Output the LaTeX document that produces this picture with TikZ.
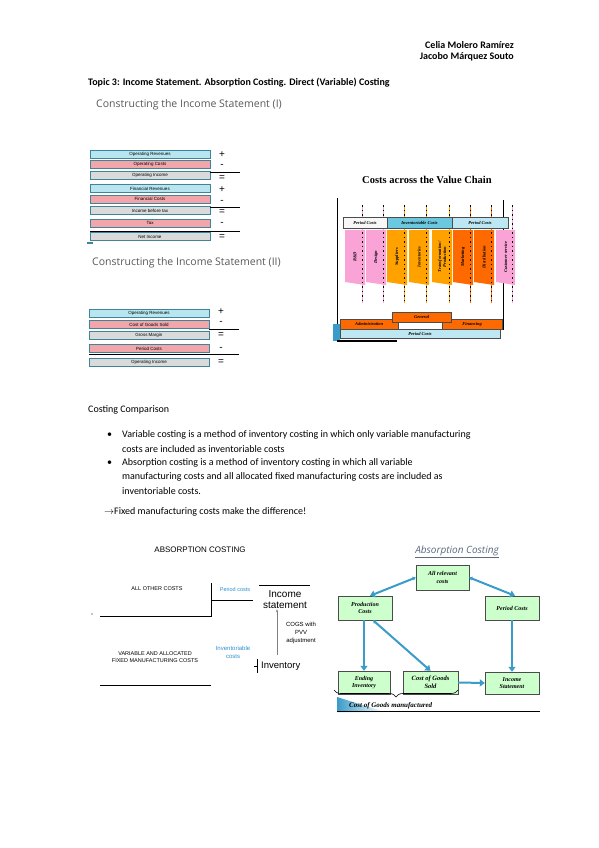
\documentclass[tikz,border=0pt]{standalone}
\usepackage{fontspec}
\setmainfont{Carlito}
\newfontfamily\arialf{Liberation Sans}
\newfontfamily\timesf{Liberation Serif}
\newfontfamily\tahomaf{Open Sans}
\usepackage{tikz}
\usetikzlibrary{arrows.meta,calc,decorations.pathreplacing}

\definecolor{rowblue}{HTML}{B7E5F0}
\definecolor{rowpink}{HTML}{F2A6AA}
\definecolor{rowgrey}{HTML}{DADADA}
\definecolor{rowedge}{HTML}{3E8599}
\definecolor{vcpink}{HTML}{F9A3D6}
\definecolor{vcorange}{HTML}{FFA200}
\definecolor{vcred}{HTML}{FF6A00}
\definecolor{vcteal}{HTML}{6CC8DE}
\definecolor{vclight}{HTML}{BDE8F3}
\definecolor{flowgreen}{HTML}{CCFFCC}
\definecolor{flowblue}{HTML}{3A9CC8}
\definecolor{costblue}{HTML}{2E8FD0}
\definecolor{headgrey}{HTML}{595959}
\definecolor{titlegrey}{HTML}{5A6A80}

\tikzset{
  row/.style={draw=rowedge, line width=0.9pt, minimum width=120pt, minimum height=8pt,
    inner sep=0pt, font=\arialf\fontsize{4.5}{5}\selectfont},
  sign/.style={inner sep=0pt, font=\arialf\fontsize{10}{10}\selectfont},
  sumline/.style={line width=1pt},
  heading/.style={anchor=west, inner sep=0pt, text=headgrey, font=\tahomaf\fontsize{10.5}{12}\selectfont},
  body/.style={anchor=west, inner sep=0pt},
  vclabel/.style={rotate=90, inner sep=0pt, align=center,
    font=\timesf\bfseries\itshape\fontsize{4.5}{5}\selectfont},
  vcbox/.style={draw=black!70, line width=0.4pt},
  small/.style={inner sep=0pt, align=center, font=\arialf\fontsize{5.5}{7}\selectfont},
  flowbox/.style={draw=black!70, fill=flowgreen, minimum width=54pt, minimum height=24pt,
    inner sep=1pt, align=center, font=\timesf\bfseries\itshape\fontsize{6}{7.5}\selectfont},
  flowarrow/.style={draw=flowblue, line width=2pt,
    {Triangle[length=3pt,width=4pt]}-{Triangle[length=5pt,width=7pt]}}
}

\begin{document}
\begin{tikzpicture}[x=1pt, y=-1pt]
  \useasboundingbox (0,0) rectangle (599,848);
  \fill[white] (0,0) rectangle (599,848);

  % page header
  \node[anchor=east, inner sep=0pt, font=\bfseries] (author1) at (514,45) {Celia Molero Ramírez};
  \node[anchor=east, inner sep=0pt, font=\bfseries] (author2) at (514,57) {Jacobo Márquez Souto};
  \node[body, font=\bfseries] (topic) at (88,83) {Topic 3: Income Statement. Absorption Costing. Direct (Variable) Costing};

  % income statement (I)
  \node[heading] (headI) at (96,105) {Constructing the Income Statement (I)};
  \foreach \n/\y/\c/\t in {1/154.5/rowblue/Operating Revenues, 2/164.5/rowpink/Operating Costs,
      3/175/rowgrey/Operating Income, 4/188.5/rowblue/Financial Revenues,
      5/199/rowpink/Financial Costs, 6/210.5/rowgrey/Income before tax,
      7/223/rowpink/Tax, 8/236.5/rowgrey/Net Income}
    \node[row, fill=\c] (ta\n) at (150,\y) {\t};
  \node[sign] (sa1) at (222,155) {+};
  \node[sign] (sa2) at (222,166) {-};
  \draw[sumline] (210,172) -- (240,172);
  \node[sign] (sa3) at (222,178) {=};
  \node[sign] (sa4) at (222,190) {+};
  \node[sign] (sa5) at (222,202) {-};
  \draw[sumline] (210,207) -- (240,207);
  \node[sign] (sa6) at (222,212) {=};
  \node[sign] (sa7) at (222,224) {-};
  \draw[sumline] (90,231) -- (240,231);
  \node[sign] (sa8) at (222,237) {=};
  \fill[rowedge] (87,242) rectangle (93,244);

  % income statement (II)
  \node[heading] (headII) at (92,263) {Constructing the Income Statement (II)};
  \foreach \n/\y/\c/\t in {1/313/rowblue/Operating Revenues, 2/324.5/rowpink/Cost of Goods Sold,
      3/335.5/rowgrey/Gross Margin, 4/348.5/rowpink/Period Costs,
      5/362.5/rowgrey/Operating Income}
    \node[row, fill=\c] (tb\n) at (149,\y) {\t};
  \node[sign] (sb1) at (221,311.5) {+};
  \node[sign] (sb2) at (221,323) {-};
  \draw[sumline] (209,329) -- (239,329);
  \node[sign] (sb3) at (221,335) {=};
  \node[sign] (sb4) at (221,349) {-};
  \draw[sumline] (89,354) -- (239,354);
  \node[sign] (sb5) at (221,362) {=};

  % value chain
  \node[inner sep=0pt, font=\timesf\bfseries\fontsize{10.5}{12}\selectfont] (vctitle) at (427,180) {Costs across the Value Chain};
  \draw[line width=0.8pt] (337,198) -- (337,335);
  \draw[line width=0.8pt] (503,200) -- (503,330);
  \foreach \n/\xa/\xb/\c/\t in {1/345/365/vcpink/R\&D, 2/366/386/vcpink/Design,
      3/387/407/vcorange/Suppliers, 4/409/429/vcorange/Inventories,
      5/432/452/vcorange/{Transformation/\\Production}, 6/453/473/vcred/Marketing,
      7/474/494/vcred/Distribution, 8/496/515/vcpink/Customer service}{
    \fill[\c] (\xa,230) -- (\xb,230) -- (\xb,285) -- (\xa,282) -- cycle;
    \draw[\c, line width=0.9pt] (\xb-3,205) -- (\xb-3,303);
    \draw[black, line width=0.5pt, dash pattern=on 1.5pt off 3pt] (\xb-3,205) -- (\xb-3,303);
    \node[vclabel] (vc\n) at ({(\xa+\xb)/2},257) {\t};
  }
  \draw[vcbox, fill=black!3] (343,217) rectangle (387,228);
  \draw[vcbox, fill=vcteal] (387,217) rectangle (452,228);
  \draw[vcbox, fill=vclight] (452,217) rectangle (508,228);
  \node[vclabel, rotate=-90] (vch1) at (365,222.5) {Period Costs};
  \node[vclabel, rotate=-90] (vch2) at (419.5,222.5) {Inventoriable Costs};
  \node[vclabel, rotate=-90] (vch3) at (480,222.5) {Period Costs};
  \fill[flowblue] (333,324) rectangle (340,341);
  \draw[vcbox, fill=vclight] (340,329) rectangle (500,338);
  \draw[vcbox, fill=vcred] (340,319) rectangle (398,329);
  \draw[vcbox, fill=vcred] (442,319) rectangle (502,329);
  \draw[vcbox, fill=white] (398,322) rectangle (442,329);
  \draw[vcbox, fill=vcred] (392,312) rectangle (451,322);
  \draw[line width=1.5pt] (337,341) -- (397,341);
  \node[vclabel, rotate=-90] (vcgen) at (421.5,317) {General};
  \node[vclabel, rotate=-90] (vcadm) at (369,324) {Administration};
  \node[vclabel, rotate=-90] (vcfin) at (472,324) {Financing};
  \node[vclabel, rotate=-90] (vcper) at (420,333.5) {Period Costs};

  % costing comparison
  \node[body] (cmp) at (88,410) {Costing Comparison};
  \node[body] (bul1) at (107,435) {\textbullet};
  \node[body] (var1) at (122,435) {Variable costing is a method of inventory costing in which only variable manufacturing};
  \node[body] (var2) at (122,449) {costs are included as inventoriable costs};
  \node[body] (bul2) at (107,463) {\textbullet};
  \node[body] (abs1) at (122,463) {Absorption costing is a method of inventory costing in which all variable};
  \node[body] (abs2) at (122,477) {manufacturing costs and all allocated fixed manufacturing costs are included as};
  \node[body] (abs3) at (122,491) {inventoriable costs.};
  \node[body] (diff) at (104,512) {$\rightarrow$Fixed manufacturing costs make the difference!};

  % absorption costing, left scheme
  \node[inner sep=0pt, font=\arialf\fontsize{8}{9}\selectfont] (abstitle) at (200,550) {ABSORPTION COSTING};
  \node[small] (other) at (157,589) {ALL OTHER COSTS};
  \draw[line width=0.7pt] (100,616) -- (211,616) -- (211,583);
  \draw[line width=0.7pt] (211,600) -- (253,600);
  \node[small, text=costblue] (percost) at (235,590) {Period costs};
  \draw[line width=0.7pt] (259,585) -- (310,585);
  \node[inner sep=0pt, align=center, font=\arialf\fontsize{10}{11}\selectfont] (incst0) at (285,600) {Income\\statement};
  \fill (92,614) circle (0.6);
  \node[small] (varfix) at (155,657) {VARIABLE AND ALLOCATED\\FIXED MANUFACTURING COSTS};
  \draw[line width=0.7pt] (100,685) -- (211,685);
  \node[small, text=costblue, font=\arialf\fontsize{6}{8}\selectfont] (invcost) at (233,652) {Inventoriable\\costs};
  \node[body, font=\arialf\fontsize{9.5}{11}\selectfont] (inv0) at (261,666) {Inventory};
  \draw[line width=0.6pt] (257,659) -- (257,673);
  \draw[line width=0.6pt] (254,666) -- (257,666);
  \coordinate (cogsfoot) at (277,655);
  \draw[black!50, line width=0.4pt, -{Stealth[length=3pt]}] (cogsfoot) -- (incst0.south -| cogsfoot);
  \node[small, font=\arialf\fontsize{6}{8}\selectfont] (cogsadj) at (301,633) {COGS with\\PVV\\adjustment};

  % absorption costing, right scheme
  \node[inner sep=0pt, text=titlegrey, font=\tahomaf\itshape\fontsize{10}{12}\selectfont] (flowtitle) at (457,552) {\underline{Absorption Costing}};
  \node[flowbox, minimum width=53pt, minimum height=25pt] (rel) at (442.5,577.5) {All relevant\\costs};
  \node[flowbox] (prod) at (365,608) {Production\\Costs};
  \node[flowbox] (per) at (512,608) {Period Costs};
  \node[flowbox, minimum width=52pt, minimum height=23pt] (endinv) at (364,682.5) {Ending\\Inventory};
  \node[flowbox, minimum width=55pt, minimum height=23pt, font=\timesf\bfseries\itshape\fontsize{6.5}{8}\selectfont] (cogs) at (430.5,682.5) {Cost of Goods\\Sold};
  \node[flowbox, minimum height=22pt] (incst) at (512,683) {Income\\Statement};
  \draw[flowarrow] (rel.west) -- ([xshift=5pt]prod.north);
  \draw[flowarrow] (rel.east) -- ([xshift=3pt]per.north);
  \draw[flowarrow, -{Triangle[length=5pt,width=7pt]}] (prod.south -| endinv.north) -- (endinv.north);
  \draw[flowarrow] ([xshift=8pt]prod.south) -- (cogs.north);
  \draw[flowarrow, -{Triangle[length=5pt,width=7pt]}] (per.south) -- (incst.north);
  \draw[flowarrow, -{Triangle[length=5pt,width=7pt]}] (cogs.east) -- (incst.west);
  \draw[line width=0.6pt, decorate, decoration={brace, mirror, amplitude=7pt}] (334,690) -- (458,690);
  \shade[left color=flowblue, right color=white] (337,697) -- (385,712) -- (337,712) -- cycle;
  \node[body, font=\timesf\bfseries\itshape\fontsize{7}{8}\selectfont] (cogm) at (349,706) {Cost of Goods manufactured};
  \draw[line width=0.8pt] (337,711) -- (540,711);
\end{tikzpicture}
\end{document}
